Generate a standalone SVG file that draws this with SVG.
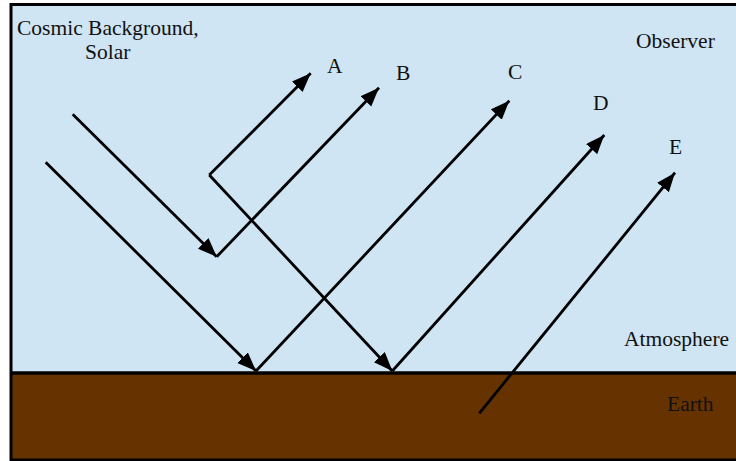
<svg xmlns="http://www.w3.org/2000/svg" width="736" height="461" viewBox="0 0 736 461">
  <style>
    .lbl { font-family: "Liberation Serif", "Times New Roman", serif; font-size: 21.5px; fill: #111; }
    .ray { stroke: #000; stroke-width: 2.8; fill: none; }
    .arr { marker-end: url(#ah); }
  </style>
  <defs>
    <marker id="ah" markerUnits="userSpaceOnUse" markerWidth="22" markerHeight="16" refX="19" refY="7.5" orient="auto">
      <path d="M0,0 L19,7.5 L0,15 Z" fill="#000"/>
    </marker>
  </defs>
  <g id="background">
    <rect x="11" y="4.5" width="740" height="368.5" fill="#cfe5f3"/>
    <rect x="11" y="373" width="740" height="87" fill="#663300"/>
    <line x1="11" y1="373" x2="751" y2="373" stroke="#000" stroke-width="3.5"/>
    <rect x="11" y="4.5" width="740" height="455.5" fill="none" stroke="#000" stroke-width="3"/>
  </g>
  <g id="labels">
    <g id="source"><text class="lbl" x="17" y="35">Cosmic Background,</text><text class="lbl" x="85" y="59">Solar</text></g>
    <g id="observer"><text class="lbl" x="636" y="48">Observer</text></g>
    <g id="atmosphere"><text class="lbl" x="624" y="346">Atmosphere</text></g>
    <g id="earth"><text class="lbl" x="667" y="411">Earth</text></g>
    <g id="A"><text class="lbl" x="327" y="73">A</text></g>
    <g id="B"><text class="lbl" x="396" y="80">B</text></g>
    <g id="C"><text class="lbl" x="508" y="79">C</text></g>
    <g id="D"><text class="lbl" x="593" y="110">D</text></g>
    <g id="E"><text class="lbl" x="669" y="154">E</text></g>
  </g>
  <g id="connectors">
    <line class="ray arr" x1="72.7" y1="114.3" x2="216.7" y2="256.7"/>
    <line class="ray arr" x1="216.7" y1="256.7" x2="379" y2="87.7"/>
    <line class="ray arr" x1="45.7" y1="162.3" x2="256" y2="371"/>
    <line class="ray arr" x1="256" y1="371" x2="509.3" y2="100.7"/>
    <line class="ray arr" x1="209.3" y1="175" x2="310.7" y2="73.3"/>
    <line class="ray arr" x1="209.3" y1="175" x2="392.3" y2="371"/>
    <line class="ray arr" x1="392.3" y1="371" x2="604.3" y2="135"/>
    <line class="ray arr" x1="479.3" y1="413.3" x2="675" y2="172.7"/>
  </g>
</svg>
